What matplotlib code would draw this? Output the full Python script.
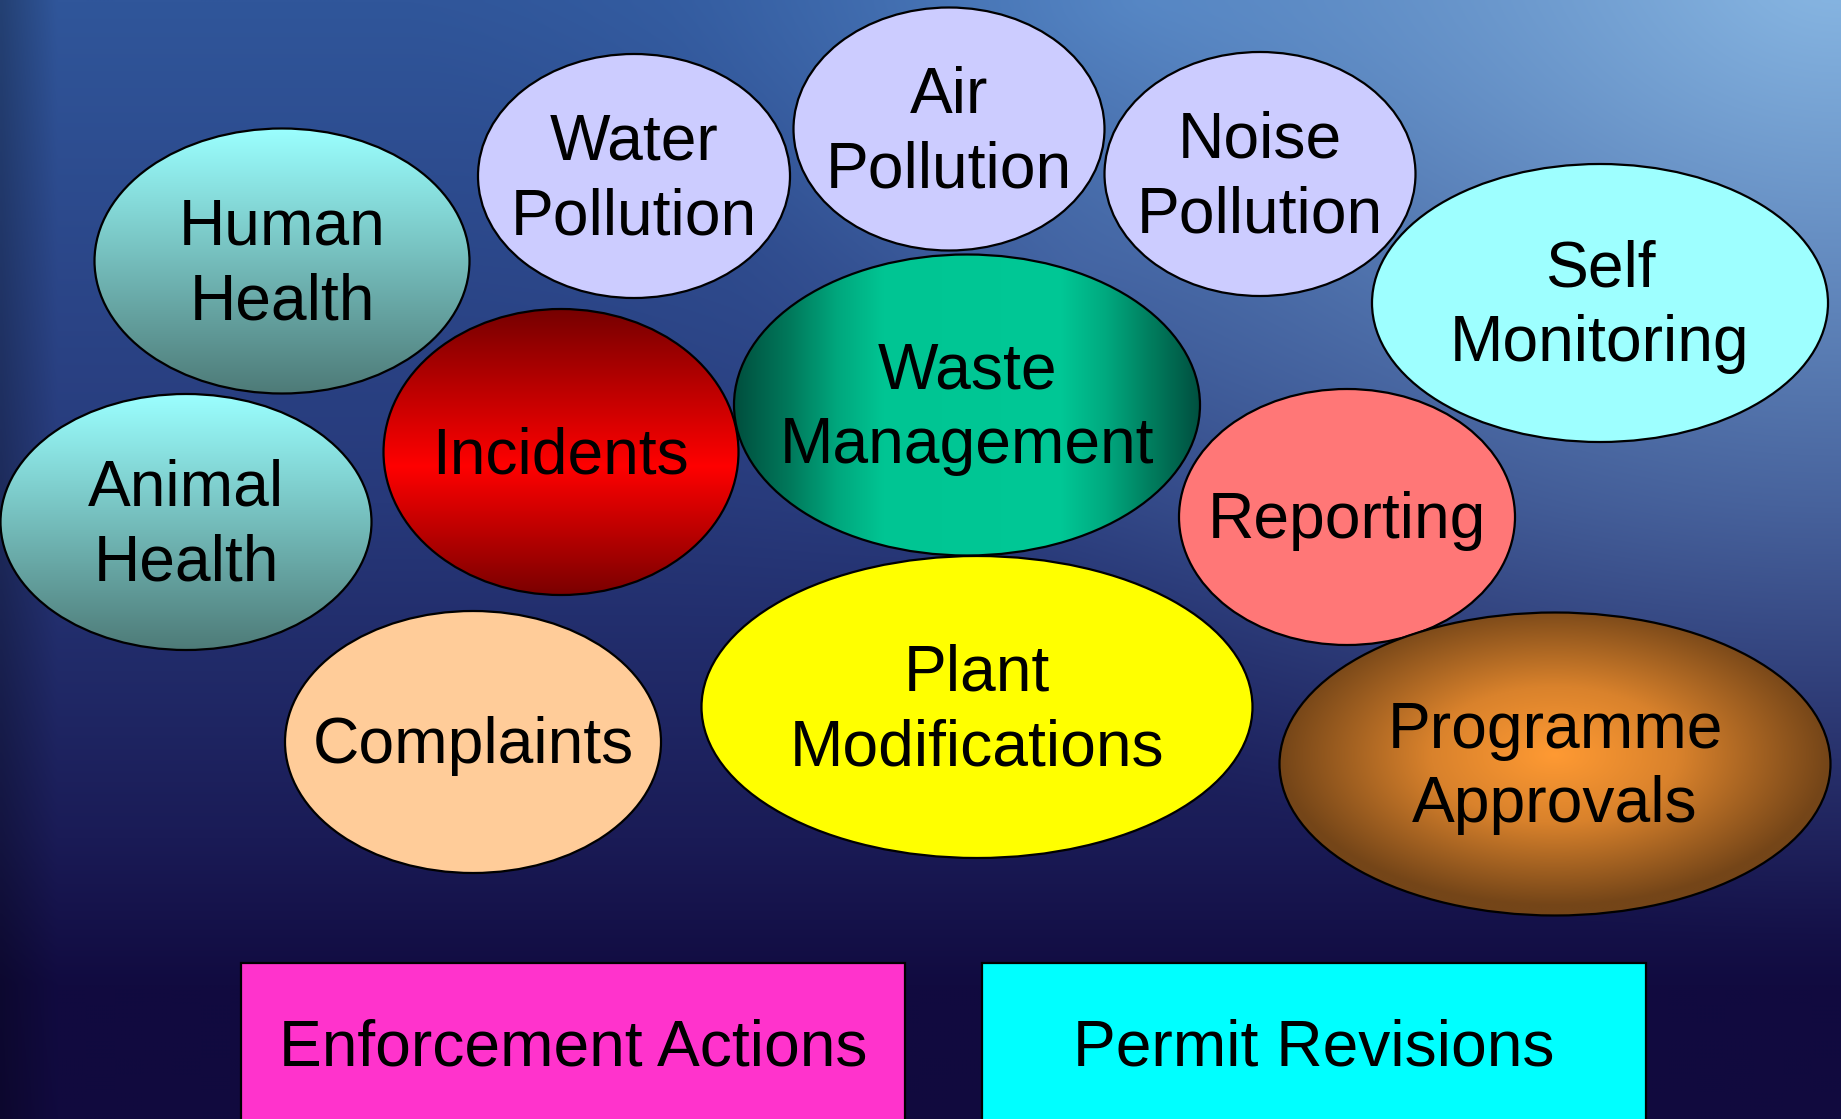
import numpy as np
import matplotlib
matplotlib.use("Agg")
import matplotlib.pyplot as plt
from matplotlib.patches import Ellipse, Rectangle
from matplotlib.colors import to_rgb

# -----------------------------
# Diagram content
# -----------------------------
ELLIPSE_LABELS = [
    "Human\nHealth", "Water\nPollution", "Air\nPollution", "Noise\nPollution",
    "Self\nMonitoring", "Animal\nHealth", "Incidents", "Waste\nManagement",
    "Reporting", "Complaints", "Plant\nModifications", "Programme\nApprovals",
]
BOX_LABELS = ["Enforcement Actions", "Permit Revisions"]

# layout (pixel coords of the 1841x1119 canvas): centre x, centre y, width, height
ELLIPSE_CX = [282, 634, 949, 1260, 1600, 186, 561, 967, 1347, 473, 977, 1555]
ELLIPSE_CY = [261, 176, 129, 174, 303, 522, 452, 405, 517, 742, 707, 764]
ELLIPSE_W = [375, 312, 311, 311, 456, 371, 355, 466, 336, 376, 551, 551]
ELLIPSE_H = [265, 244, 243, 244, 278, 256, 286, 301, 256, 262, 302, 303]

# fills: (kind, stops)  kind: flat / v (vertical) / h (horizontal) / r (radial)
ELLIPSE_FILLS = [
    ("v", [(0, "#9bffff"), (1, "#4e7b78")]),
    ("flat", "#ccccff"),
    ("flat", "#ccccff"),
    ("flat", "#ccccff"),
    ("flat", "#9effff"),
    ("v", [(0, "#9bffff"), (1, "#4e7b78")]),
    ("v", [(0, "#760000"), (0.55, "#ff0000"), (1, "#7a0000")]),
    ("h", [(0, "#004f3e"), (0.12, "#007a5c"), (0.22, "#00a77d"), (0.32, "#00c593"),
           (0.7, "#00c896"), (0.8, "#00a97f"), (0.9, "#007c5d"), (1, "#005040")]),
    ("flat", "#ff7777"),
    ("flat", "#ffcc99"),
    ("flat", "#ffff00"),
    ("r", [(0, "#ff9a33"), (0.45, "#d9822c"), (1, "#744518")]),
]

BOX_X0 = [241, 982]
BOX_X1 = [905, 1646]
BOX_Y0 = [963, 963]
BOX_COLORS = ["#ff33cc", "#00ffff"]

W, H = 1841, 1119
FONT = dict(family="Liberation Sans", fontsize=46.2, color="black")


def ramp(t, stops):
    pos = np.array([p for p, _ in stops])
    cols = np.array([to_rgb(c) for _, c in stops])
    out = np.zeros(t.shape + (3,))
    for k in range(3):
        out[..., k] = np.interp(t, pos, cols[:, k])
    return out


def gradient_image(kind, stops, n=200):
    yy, xx = np.mgrid[0:1:n * 1j, 0:1:n * 1j]
    if kind == "v":
        t = yy
    elif kind == "h":
        t = xx
    else:
        t = np.clip(np.hypot(xx - 0.5, yy - 0.47) / 0.5, 0, 1)
    return ramp(t, stops)


def blend(img, weight, colour):
    c = np.array(to_rgb(colour))
    return img * (1 - weight[..., None]) + c * weight[..., None]


def background():
    h, w = 280, 460
    yy, xx = np.mgrid[0:1:h * 1j, 0:1:w * 1j]
    img = ramp(yy, [(0, "#30569a"), (0.45, "#27397a"), (0.75, "#1a1b56"),
                    (0.88, "#110b40"), (1, "#110a3e")])
    # brighter band along the top centre
    d0 = np.hypot((xx - 0.62) * 1.5, yy * 2.2)
    img = blend(img, np.clip(1 - d0 / 0.6, 0, 1) ** 1.5 * 0.55, "#4f8ad0")
    # light glow in the upper right
    d = np.hypot((xx - 1.0) * 1.4, (yy + 0.05) * 1.0)
    img = blend(img, np.clip(1 - d / 0.9, 0, 1) ** 1.4, "#8cbbe6")
    # faint glow behind the centre top
    d2 = np.hypot((xx - 0.58) * 2.2, (yy - 0.24) * 2.0)
    img = blend(img, np.clip(1 - d2 / 0.8, 0, 1) ** 2 * 0.25, "#5b82c0")
    # darker strip on the left edge
    g3 = np.clip(1 - xx / 0.03, 0, 1) * 0.25
    img = img * (1 - g3[..., None])
    return img


fig = plt.figure(figsize=(W / 100, H / 100), dpi=100)
ax = fig.add_axes([0, 0, 1, 1])
ax.set_xlim(0, W)
ax.set_ylim(H, 0)
ax.axis("off")

ax.imshow(background(), extent=(0, W, H, 0), origin="upper",
          interpolation="bilinear", aspect="auto", zorder=0)

# ellipses, drawn in order so later ones sit on top
for i, label in enumerate(ELLIPSE_LABELS):
    cx, cy, ew, eh = ELLIPSE_CX[i], ELLIPSE_CY[i], ELLIPSE_W[i], ELLIPSE_H[i]
    kind, spec = ELLIPSE_FILLS[i]
    z = 2 + i * 0.1
    if kind == "flat":
        ax.add_patch(Ellipse((cx, cy), ew, eh, facecolor=spec,
                             edgecolor="black", lw=1.6, zorder=z))
    else:
        clip = Ellipse((cx, cy), ew, eh, facecolor="none", edgecolor="none")
        ax.add_patch(clip)
        im = ax.imshow(gradient_image(kind, spec),
                       extent=(cx - ew / 2, cx + ew / 2, cy + eh / 2, cy - eh / 2),
                       origin="upper", interpolation="bilinear",
                       aspect="auto", zorder=z)
        im.set_clip_path(clip)
        ax.add_patch(Ellipse((cx, cy), ew, eh, facecolor="none",
                             edgecolor="black", lw=1.6, zorder=z + 0.01))
    ax.text(cx, cy + 4, label, ha="center", va="center", linespacing=1.3,
            zorder=z + 0.02, **FONT)

# boxes at the bottom (run off the canvas edge)
for i, label in enumerate(BOX_LABELS):
    x0, x1, y0 = BOX_X0[i], BOX_X1[i], BOX_Y0[i]
    ax.add_patch(Rectangle((x0, y0), x1 - x0, H + 20 - y0,
                           facecolor=BOX_COLORS[i], edgecolor="black",
                           lw=1.6, zorder=5))
    ax.text((x0 + x1) / 2, 1049, label, ha="center", va="center",
            zorder=6, **FONT)

fig.savefig("out.png", dpi=100)
